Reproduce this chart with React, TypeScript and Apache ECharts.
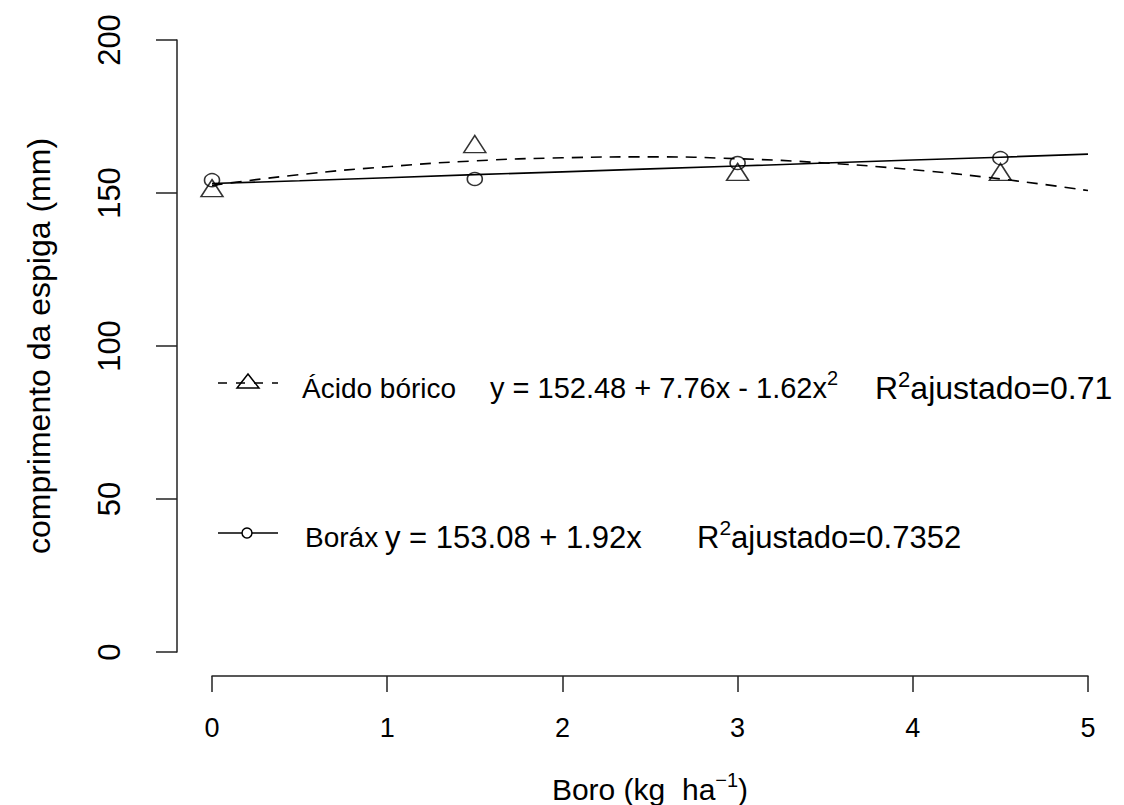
import React, { useEffect, useRef } from "react";
import * as echarts from "echarts";

const doseObs = [0, 1.5, 3, 4.5];
const acidoObs = [151.6, 166.0, 156.9, 156.9];
const boraxObs = [154.2, 154.6, 159.8, 161.4];

// Fitted curves
const doseFit = [0, 0.5, 1, 1.5, 2, 2.5, 3, 3.5, 4, 4.5, 5];
const acidoFit = [152.5, 156.0, 158.6, 160.5, 161.5, 161.8, 161.2, 159.8, 157.6, 154.6, 150.8];
const boraxFit = [153.1, 154.0, 155.0, 156.0, 156.9, 157.9, 158.8, 159.8, 160.8, 161.7, 162.7];

const acidoLabel = "Ácido bórico";
const acidoEq = "y = 152.48 + 7.76x - 1.62x{sup|2}";
const acidoR2 = "R{sup|2}ajustado=0.71";
const boraxLabel = "Boráx";
const boraxEq = "y = 153.08 + 1.92x";
const boraxR2 = "R{sup|2}ajustado=0.7352";

const xTitle = "Boro (kg  ha{sup|−1})";
const yTitle = "comprimento da espiga (mm)";

const FONT = "'Liberation Sans', Arial, sans-serif";
const INK = "#000";
const AX = "#222";

const pairs = (xs: number[], ys: number[]) => xs.map((x, i) => [x, ys[i]]);

export default function App() {
  const ref = useRef<HTMLDivElement>(null);
  useEffect(() => {
    if (!ref.current) return;
    const chart = echarts.init(ref.current, null, { renderer: "svg" });
    const legendText = (x: number, y: number, text: string, size: number) => ({
      type: "text",
      x,
      y,
      style: {
        text,
        fontSize: size,
        fontFamily: FONT,
        fill: INK,
        verticalAlign: "middle",
        lineHeight: 40,
        rich: {
          sup: { fontSize: Math.round(size * 0.68), fontFamily: FONT, color: INK, verticalAlign: "top", lineHeight: 40 },
        },
      },
    });
    chart.setOption({
      animation: false,
      backgroundColor: "#fff",
      textStyle: { fontFamily: FONT, color: INK },
      grid: { left: 212, right: 36, top: 40, bottom: 153, containLabel: false, outerBoundsMode: "none" },
      xAxis: {
        type: "value",
        min: 0,
        max: 5,
        interval: 1,
        offset: 24,
        axisLine: { show: true, onZero: false, lineStyle: { color: AX, width: 1.5 } },
        axisTick: { show: true, length: 16, lineStyle: { color: AX, width: 1.5 } },
        axisLabel: { fontSize: 27, color: INK, margin: 38, fontFamily: FONT },
        splitLine: { show: false },
        name: xTitle,
        nameLocation: "middle",
        nameGap: 94,
        nameTextStyle: {
          fontSize: 30,
          color: INK,
          fontFamily: FONT,
          lineHeight: 38,
          rich: {
            sup: { fontSize: 20, fontFamily: FONT, color: INK, verticalAlign: "top", lineHeight: 38 },
          },
        },
      },
      yAxis: {
        type: "value",
        min: 0,
        max: 200,
        interval: 50,
        offset: 35,
        axisLine: { show: true, onZero: false, lineStyle: { color: AX, width: 1.5 } },
        axisTick: { show: true, length: 21, lineStyle: { color: AX, width: 1.5 } },
        axisLabel: { fontSize: 31, color: INK, margin: 52, rotate: 90, fontFamily: FONT },
        splitLine: { show: false },
        name: yTitle,
        nameLocation: "middle",
        nameRotate: 90,
        nameGap: 122,
        nameTextStyle: { fontSize: 32, color: INK, fontFamily: FONT },
      },
      series: [
        {
          type: "line",
          name: "Ácido bórico ajuste",
          data: pairs(doseFit, acidoFit),
          smooth: true,
          showSymbol: false,
          lineStyle: { color: INK, width: 1.6, type: [11, 8] },
          z: 2,
        },
        {
          type: "line",
          name: "Boráx ajuste",
          data: pairs(doseFit, boraxFit),
          showSymbol: false,
          lineStyle: { color: INK, width: 1.6 },
          z: 2,
        },
        {
          type: "scatter",
          name: "Ácido bórico",
          data: pairs(doseObs, acidoObs),
          symbol: "triangle",
          symbolSize: [22, 17],
          itemStyle: { color: "transparent", borderColor: INK, borderWidth: 1.5 },
          z: 3,
        },
        {
          type: "scatter",
          name: "Boráx",
          data: pairs(doseObs, boraxObs),
          symbol: "circle",
          symbolSize: [15, 13],
          itemStyle: { color: "transparent", borderColor: INK, borderWidth: 1.5 },
          z: 3,
        },
      ],
      graphic: [
        {
          type: "line",
          shape: { x1: 218, y1: 383, x2: 278, y2: 383 },
          style: { stroke: INK, lineWidth: 1.5, lineDash: [9, 9] },
        },
        {
          type: "polygon",
          shape: { points: [[237, 388], [259, 388], [248, 374]] },
          style: { fill: "none", stroke: INK, lineWidth: 1.5 },
        },
        legendText(302, 388, acidoLabel, 28),
        legendText(490, 388, acidoEq, 29),
        legendText(875, 388, acidoR2, 32),
        {
          type: "line",
          shape: { x1: 218, y1: 533, x2: 278, y2: 533 },
          style: { stroke: INK, lineWidth: 1.5 },
        },
        {
          type: "circle",
          shape: { cx: 247, cy: 533, r: 5 },
          style: { fill: "#fff", stroke: INK, lineWidth: 1.5 },
        },
        legendText(305, 537, boraxLabel, 28),
        legendText(385, 537, boraxEq, 31),
        legendText(697, 537, boraxR2, 31),
      ],
    });
    return () => chart.dispose();
  }, []);
  return (
    <div
      ref={ref}
      style={{ position: "fixed", left: 0, top: 0, width: 1124, height: 805, background: "#fff" }}
    />
  );
}
